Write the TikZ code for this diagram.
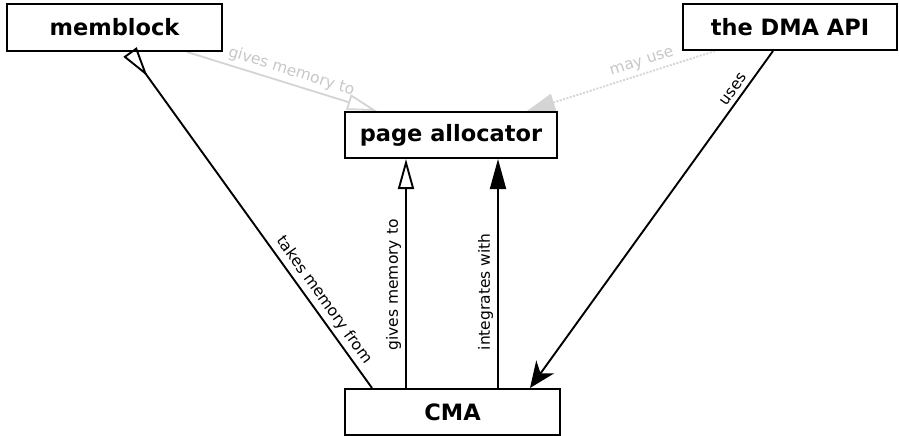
\documentclass[tikz,border=0pt]{standalone}
\usepackage{fontspec}
\setmainfont{DejaVu Sans}
\usetikzlibrary{arrows.meta,backgrounds}
\begin{document}
\begin{tikzpicture}[x=1pt,y=-1pt,
  box/.style={draw, fill=white, line width=2pt, inner sep=0pt, minimum height=46pt, font=\fontsize{22.5}{27}\selectfont\bfseries},
  rel/.style={draw=black, line width=1.9pt},
  faded/.style={draw=black!17, line width=1.8pt},
  lbl/.style={font=\fontsize{15.5}{18}\selectfont, inner sep=4pt, sloped, above},
  fadedlbl/.style={lbl, text=black!22},
  opentri/.style={-{Triangle[open, length=30pt, width=16pt]}},
  revtri/.style={-{Triangle[reversed, open, length=30pt, width=16pt]}},
  solidtri/.style={-{Triangle[length=30pt, width=16pt]}},
  stealthtip/.style={-{Stealth[length=26pt, width=22pt, inset=8pt]}},
  graytri/.style={-{Triangle[length=28pt, width=18pt]}},
]
\useasboundingbox (0,0) rectangle (899,436);
\node[box, minimum width=215pt, minimum height=47pt] (mem) at (114.5,27.5) {memblock};
\node[box, minimum width=214pt] (dma) at (790,27) {the DMA API};
\node[box, minimum width=212pt] (page) at (451,135) {page allocator};
\node[box, minimum width=215pt] (cma) at (452.5,412) {CMA};
\begin{pgfonlayer}{background}
\draw[faded, opentri] ([xshift=181pt]mem.south west) -- node[fadedlbl, pos=0.53] {gives memory to} ([xshift=33pt]page.north west);
\draw[faded, dash pattern=on 2pt off 1.5pt, graytri] ([xshift=33pt]dma.south west) -- node[fadedlbl, pos=0.37] {may use} ([xshift=183pt]page.north west);
\end{pgfonlayer}
\draw[rel, revtri] ([xshift=28pt]cma.north west) -- node[lbl, pos=0.24] {takes memory from} ([xshift=124pt]mem.south west);
\draw[rel, opentri] ([xshift=62pt]cma.north west) -- node[lbl, pos=0.45] {gives memory to} ([xshift=62pt]page.south west);
\draw[rel, solidtri] ([xshift=154pt]cma.north west) -- node[lbl, pos=0.42] {integrates with} ([xshift=154pt]page.south west);
\draw[rel, stealthtip] ([xshift=91pt]dma.south west) -- node[lbl, pos=0.13] {uses} ([xshift=186pt]cma.north west);
\end{tikzpicture}
\end{document}
